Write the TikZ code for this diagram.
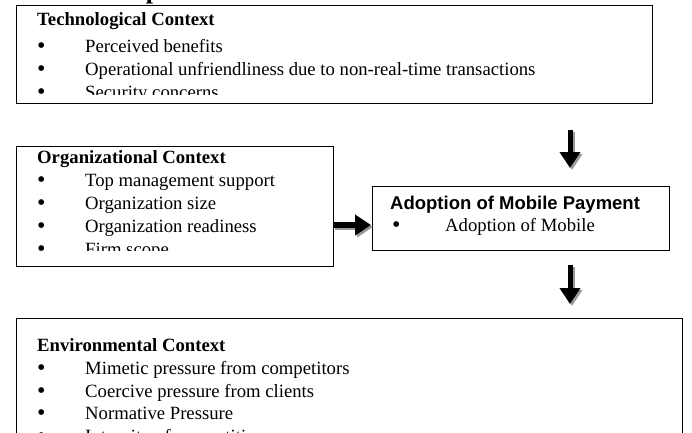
\documentclass[tikz,border=0pt]{standalone}
\usepackage{fontspec}
\setmainfont{Liberation Serif}
\newfontfamily\arialfont{Liberation Sans}
\usetikzlibrary{arrows.meta}
\begin{document}
\begin{tikzpicture}[x=1pt,y=-1pt,
  box/.style={draw, line width=0.9pt, inner sep=0pt, anchor=north west},
  txt/.style={anchor=base west, inner sep=0pt, font=\fontsize{18.7}{18.7}\selectfont},
  bul/.style={anchor=base west, inner sep=0pt, text height=8pt, text depth=0pt, font=\fontsize{24}{24}\selectfont},
  head/.style={txt, font=\fontsize{18.7}{18.7}\selectfont\bfseries},
  bigarrow/.style={line width=5pt, -{Triangle[width=20pt,length=16pt]},
    preaction={draw=black!40, line width=5pt, -{Triangle[width=20pt,length=16pt]},
      transform canvas={shift={(2pt,-2pt)}}}}]
\useasboundingbox (0,0) rectangle (692,432);
% clipped title fragment
\begin{scope}
  \clip (0,0) rectangle (692,5);
  \node[anchor=base, inner sep=0pt, font=\fontsize{26}{26}\selectfont\bfseries] (ttl) at (153,-2) {p};
\end{scope}
% boxes
\node[box, minimum width=636pt, minimum height=98pt] (tech) at (16,5) {};
\node[box, minimum width=317pt, minimum height=120pt] (org) at (16,146) {};
\node[box, minimum width=297pt, minimum height=64pt] (adopt) at (372,186) {};
\node[box, minimum width=666pt, minimum height=130pt] (env) at (16,318) {};
% technological
\begin{scope}
  \clip (17,6) rectangle (651,94);
  \node[head] (t0) at (37,25) {Technological Context};
  \node[bul] (t1b) at (37,53) {•}; \node[txt] (t1) at (85,52) {Perceived benefits};
  \node[bul] (t2b) at (37,76) {•}; \node[txt] (t2) at (85,75) {Operational unfriendliness due to non-real-time transactions};
  \node[bul] (t3b) at (37,99) {•}; \node[txt] (t3) at (85,98) {Security concerns};
\end{scope}
% organizational
\begin{scope}
  \clip (17,147) rectangle (332,250);
  \node[head] (o0) at (37,163) {Organizational Context};
  \node[bul] (o1b) at (37,187) {•}; \node[txt] (o1) at (85,186) {Top management support};
  \node[bul] (o2b) at (37,210) {•}; \node[txt] (o2) at (85,209) {Organization size};
  \node[bul] (o3b) at (37,233) {•}; \node[txt] (o3) at (85,232) {Organization readiness};
  \node[bul] (o4b) at (37,256) {•}; \node[txt] (o4) at (85,255) {Firm scope};
\end{scope}
% adoption
\node[txt, font=\arialfont\fontsize{18.5}{18.5}\selectfont\bfseries] (a0) at (390,209) {Adoption of Mobile Payment};
\node[bul] (a1b) at (392,232) {•}; \node[txt] (a1) at (445,231) {Adoption of Mobile};
% environmental
\begin{scope}
  \clip (17,319) rectangle (681,432);
  \node[head] (e0) at (37,351) {Environmental Context};
  \node[bul] (e1b) at (37,375) {•}; \node[txt] (e1) at (85,374) {Mimetic pressure from competitors};
  \node[bul] (e2b) at (37,398) {•}; \node[txt] (e2) at (85,397) {Coercive pressure from clients};
  \node[bul] (e3b) at (37,420) {•}; \node[txt] (e3) at (85,419) {Normative Pressure};
  \node[bul] (e4b) at (37,443) {•}; \node[txt] (e4) at (85,442) {Intensity of competition};
\end{scope}
% arrows
\coordinate (d1s) at (570,130);
\coordinate (d1e) at (570,168);
\coordinate (d2s) at (570,265);
\coordinate (d2e) at (570,304);
\coordinate (rs) at (333,225);
\coordinate (re) at (371,225);
\draw[bigarrow] (d1s) -- (d1e);
\draw[bigarrow] (d2s) -- (d2e);
\draw[bigarrow, line width=6pt] (rs) -- (re);
\end{tikzpicture}
\end{document}
